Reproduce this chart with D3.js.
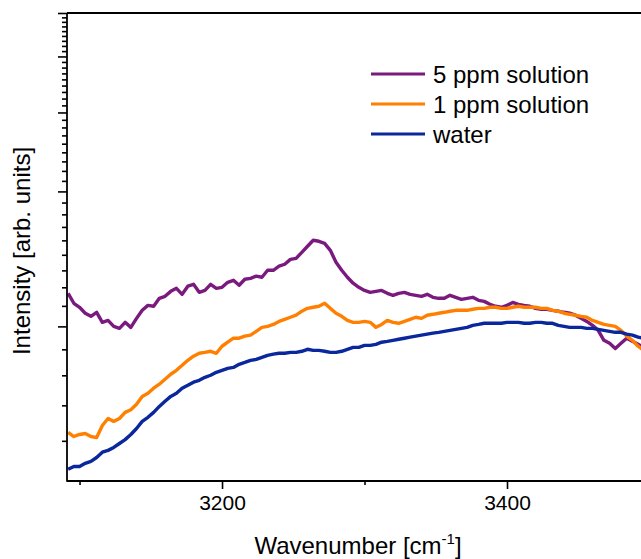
<!DOCTYPE html>
<html>
<head>
<meta charset="utf-8">
<script src="https://cdn.jsdelivr.net/npm/d3@7"></script>
<style>
  html, body { margin: 0; padding: 0; background: #fff; }
  svg { display: block; }
  text { font-family: Arial, "Liberation Sans", sans-serif; fill: #000; }
</style>
</head>
<body>
<svg id="chart" width="641" height="559"></svg>
<script>
// ---- data ----
const wavenumber = d3.range(3092, 3497, 4); // sampling grid, cm^-1

const ppm5 = [1185,1126,1103,1070,1053,1075,1021,1031,1000,990,1021,995,1042,1086,1114,1109,1155,1167,1197,1216,
  1179,1229,1241,1191,1203,1241,1216,1222,1254,1267,1235,1274,1280,1294,1287,1334,1334,1362,1376,1411,
  1418,1463,1509,1556,1548,1532,1478,1390,1334,1287,1248,1222,1203,1191,1197,1203,1185,1173,1185,1191,
  1179,1173,1167,1179,1161,1155,1155,1173,1161,1149,1155,1161,1143,1137,1120,1109,1103,1114,1131,1120,
  1114,1109,1097,1092,1092,1086,1081,1075,1070,1059,1042,1026,1005,980,931,917,893,917,941,926,912,898];

const ppm1 = [580,568,574,577,568,565,601,623,614,623,643,652,670,698,709,728,743,762,782,798,
  819,840,858,871,875,880,871,903,922,941,941,951,956,975,995,1000,1010,1026,1037,1048,
  1059,1081,1097,1103,1109,1126,1097,1070,1053,1031,1021,1021,1026,1021,995,1010,1031,1021,1016,1026,
  1037,1048,1042,1059,1064,1070,1075,1081,1086,1086,1086,1092,1097,1097,1103,1103,1097,1097,1103,1109,
  1103,1103,1103,1097,1097,1086,1081,1070,1064,1059,1053,1048,1031,1021,1010,1005,1000,980,951,931,903,884];

const water = [480,487,487,495,500,510,524,529,537,548,559,574,592,614,627,643,663,681,698,709,
  728,739,751,758,770,778,790,798,806,810,823,831,840,844,853,862,867,871,871,875,
  875,880,889,884,884,880,875,875,880,889,898,898,907,907,912,922,926,931,936,941,
  946,951,956,961,966,970,975,980,985,990,995,1005,1010,1016,1016,1016,1016,1021,1021,1021,
  1016,1016,1021,1021,1016,1016,1005,1000,995,995,995,990,990,985,980,975,970,970,961,956,946,941];

const seriesNames = ["5 ppm solution", "1 ppm solution", "water"];
const seriesColors = ["#7b1a7e", "#ff8000", "#0a279c"];
const seriesValues = [ppm5, ppm1, water];

const xDomain = [3091.2, 3500];
const yDomain = [452, 5000];
const xMajorTicks = [3200, 3400];
const xMinorTicks = [3100, 3300, 3500];
const yMajorTicks = [1000, 2000, 3000, 4000, 5000];

// ---- layout ----
const svg = d3.select("#chart");
const mLeft = 67, mRight = 649.5, mTop = 13, mBottom = 481;

const x = d3.scaleLinear().domain(xDomain).range([mLeft, mRight]);
const y = d3.scaleLog().domain(yDomain).range([mBottom, mTop]);

// y minor ticks: 8 per major interval
const yMinorTicks = d3.range(1, 45).map(m => m * 1000 / 9)
  .filter((v, i) => (i + 1) % 9 !== 0 && v >= yDomain[0] && v <= yDomain[1]);

svg.append("defs").append("clipPath").attr("id", "clip")
  .append("rect").attr("x", mLeft).attr("y", mTop).attr("width", mRight - mLeft).attr("height", mBottom - mTop);

// curves
const line = d3.line().x((d, i) => x(wavenumber[i])).y(d => y(d));
const g = svg.append("g").attr("clip-path", "url(#clip)");
seriesValues.forEach((vals, k) => {
  g.append("path").datum(vals)
    .attr("fill", "none")
    .attr("stroke", seriesColors[k])
    .attr("stroke-width", 3.4)
    .attr("stroke-linejoin", "round")
    .attr("d", line);
});

// bottom axis
const xAxis = d3.axisBottom(x).tickValues(xMajorTicks).tickSize(8).tickSizeOuter(0).tickPadding(6)
  .tickFormat(d3.format("d"));
const gx = svg.append("g").attr("transform", `translate(0,${mBottom})`).call(xAxis);
gx.select(".domain").remove();
gx.selectAll(".tick line").attr("stroke", "#000").attr("stroke-width", 1.6);
gx.selectAll(".tick text").attr("font-size", 21).attr("font-family", "Arial, 'Liberation Sans', sans-serif").attr("fill", "#000");
const xMinor = d3.axisBottom(x).tickValues(xMinorTicks).tickSize(4).tickSizeOuter(0).tickFormat("");
const gxm = svg.append("g").attr("transform", `translate(0,${mBottom})`).call(xMinor);
gxm.select(".domain").remove();
gxm.selectAll(".tick line").attr("stroke", "#000").attr("stroke-width", 1.6);

// left axis
const yAxis = d3.axisLeft(y).tickValues(yMajorTicks).tickSize(9).tickSizeOuter(0).tickFormat("");
const gy = svg.append("g").attr("transform", `translate(${mLeft},0)`).call(yAxis);
gy.select(".domain").remove();
gy.selectAll(".tick line").attr("stroke", "#000").attr("stroke-width", 1.6);
const yMinor = d3.axisLeft(y).tickValues(yMinorTicks).tickSize(5).tickSizeOuter(0).tickFormat("");
const gym = svg.append("g").attr("transform", `translate(${mLeft},0)`).call(yMinor);
gym.select(".domain").remove();
gym.selectAll(".tick line").attr("stroke", "#000").attr("stroke-width", 1.6);

// frame lines
svg.append("line").attr("x1", mLeft).attr("x2", mLeft).attr("y1", mTop).attr("y2", mBottom + 0.8)
  .attr("stroke", "#000").attr("stroke-width", 1.8);
svg.append("line").attr("x1", mLeft).attr("x2", mRight).attr("y1", mBottom).attr("y2", mBottom)
  .attr("stroke", "#000").attr("stroke-width", 1.8);
svg.append("line").attr("x1", mLeft).attr("x2", mRight).attr("y1", mTop).attr("y2", mTop)
  .attr("stroke", "#000").attr("stroke-width", 1.8);

// axis titles
const xt = svg.append("text").attr("x", 358).attr("y", 554).attr("text-anchor", "middle").attr("font-size", 24);
xt.append("tspan").text("Wavenumber [cm");
xt.append("tspan").attr("font-size", 15).attr("dy", -10).text("-1");
xt.append("tspan").attr("dy", 10).text("]");

svg.append("text").attr("transform", "translate(30,251) rotate(-90)")
  .attr("text-anchor", "middle").attr("font-size", 24).text("Intensity [arb. units]");

// legend
const lg = svg.append("g");
seriesNames.forEach((name, k) => {
  const cy = 74 + k * 30;
  lg.append("line").attr("x1", 371).attr("x2", 425).attr("y1", cy).attr("y2", cy)
    .attr("stroke", seriesColors[k]).attr("stroke-width", 3);
  lg.append("text").attr("x", 433).attr("y", cy + 9).attr("font-size", 24).text(name);
});
</script>
</body>
</html>
